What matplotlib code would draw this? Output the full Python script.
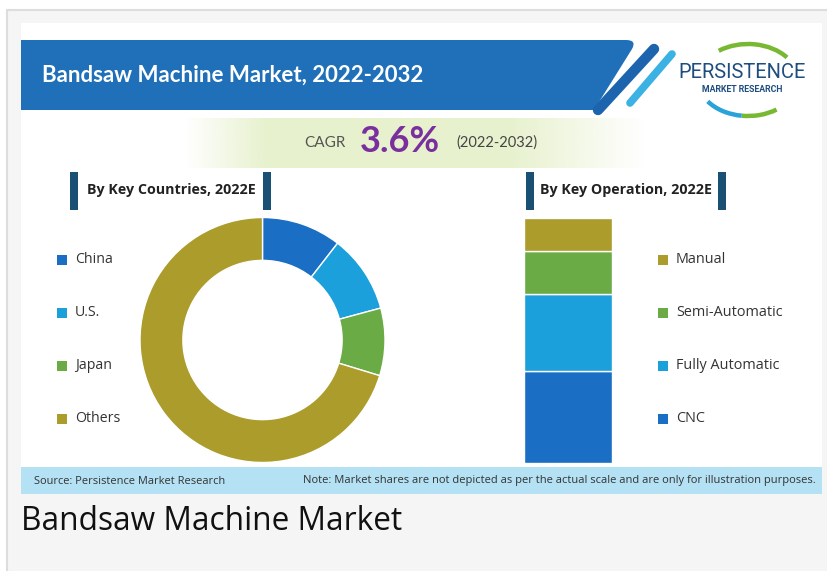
import matplotlib
matplotlib.use('Agg')
import matplotlib.pyplot as plt
import numpy as np
from matplotlib.patches import Rectangle, PathPatch, Arc
from matplotlib.path import Path
from matplotlib.lines import Line2D

W, H = 827, 571

# ---------------- data ----------------
title = "Bandsaw Machine Market, 2022-2032"
caption = "Bandsaw Machine Market"
cagr_label = "CAGR"
cagr_value = "3.6%"
cagr_period = "(2022-2032)"
countries_title = "By Key Countries, 2022E"
operation_title = "By Key Operation, 2022E"
country_labels = ["China", "U.S.", "Japan", "Others"]
country_shares = [10.5, 10.3, 8.9, 70.3]
country_colors = ["#1a6fc4", "#1ba0dc", "#6aab45", "#ab9c2c"]
operation_labels = ["Manual", "Semi-Automatic", "Fully Automatic", "CNC"]
operation_shares = [13.5, 17.5, 31.5, 37.5]
operation_colors = ["#ab9c2c", "#6aab45", "#1ba0dc", "#1a6fc4"]
source_text = "Source: Persistence Market Research"
note_text = ("Note: Market shares are not depicted as per the actual scale "
             "and are only for illustration purposes.")
logo_main = "PERSISTENCE"
logo_sub = "MARKET RESEARCH"

BODY = ['Open Sans', 'DejaVu Sans']
HEAD = ['Lato', 'DejaVu Sans']
LOGO = ['Roboto', 'DejaVu Sans']

fig = plt.figure(figsize=(W / 100, H / 100), dpi=100)
fig.patch.set_facecolor('white')
bg = fig.add_axes([0, 0, 1, 1])
bg.set_xlim(0, W)
bg.set_ylim(H, 0)
bg.axis('off')

# page / card
bg.add_patch(Rectangle((7, 10), 840, 600, fc='#f5f5f5', ec='#dddddd', lw=1.5, zorder=0))
bg.add_patch(Rectangle((21, 23), 801, 444, fc='white', ec='none', zorder=1))
bg.add_patch(Rectangle((21, 467), 801, 27, fc='#b4e1f3', ec='none', zorder=1))

# header band
verts = [(21, 40), (626, 40), (637, 40), (632, 49), (594, 110), (21, 110), (21, 40)]
codes = [Path.MOVETO, Path.LINETO, Path.CURVE3, Path.CURVE3, Path.LINETO, Path.LINETO, Path.CLOSEPOLY]
bg.add_patch(PathPatch(Path(verts, codes), fc='#1f70b9', ec='none', zorder=2))
bg.add_line(Line2D([598, 654], [110, 49], color='#1d64ae', lw=7.5, solid_capstyle='round', zorder=2))
bg.add_line(Line2D([630, 672], [103, 54], color='#3cb1e3', lw=5.5, solid_capstyle='round', zorder=2))
bg.text(42, 75, title, color='white', fontsize=16, fontweight='bold', family=HEAD,
        ha='left', va='center', zorder=3)

# logo
bg.add_patch(Arc((748, 80), 100, 72, theta1=225, theta2=330, color='#79b832', lw=3.2, zorder=2))
bg.add_patch(Arc((748, 80), 100, 72, theta1=46, theta2=100, color='#79b832', lw=3.2, zorder=2))
bg.add_patch(Arc((748, 80), 100, 72, theta1=100, theta2=152, color='#29a3d8', lw=3.2, zorder=2))
bg.add_patch(Rectangle((684, 60), 118, 35, fc='white', ec='none', zorder=2.5))
bg.text(742.5, 73, logo_main, color='#1d4e7f', fontsize=14.5, family=LOGO, ha='center',
        va='center', zorder=3)
bg.text(742.5, 89.5, logo_sub, color='#1d4e7f', fontsize=6.3, fontweight='bold', family=LOGO,
        ha='center', va='center', zorder=3)

# CAGR band
n = 400
xs = np.linspace(0, 1, n)
alpha = np.clip(np.minimum(xs / 0.18, (1 - xs) / 0.3), 0, 1)
grad = np.zeros((1, n, 4))
grad[..., 0] = 0xe7 / 255
grad[..., 1] = 0xf1 / 255
grad[..., 2] = 0xcd / 255
grad[..., 3] = alpha
bg.imshow(grad, extent=(185, 645, 168, 118), aspect='auto', zorder=2, interpolation='bilinear')
bg.set_xlim(0, W)
bg.set_ylim(H, 0)
bg.text(325, 143, cagr_label, color='#555555', fontsize=11, family=HEAD, ha='center', va='center', zorder=3)
bg.text(400, 141, cagr_value, color='#7a2f9e', fontsize=26, fontweight='bold', family=HEAD,
        ha='center', va='center', zorder=3)
bg.text(497, 143, cagr_period, color='#444444', fontsize=10.5, family=HEAD, ha='center', va='center', zorder=3)

# section headers
for (x1, x2, tx, txt) in [(70, 263, 171, countries_title), (526, 718, 626, operation_title)]:
    bg.add_patch(Rectangle((x1, 172), 8, 38, fc='#1b5075', ec='none', zorder=3))
    bg.add_patch(Rectangle((x2, 172), 8, 38, fc='#1b5075', ec='none', zorder=3))
    bg.text(tx, 190, txt, color='#222222', fontsize=10.3, fontweight='bold', family=BODY,
            ha='center', va='center', zorder=3)

# legends
leg_y = [260, 313, 366, 419]
for lab, col, y in zip(country_labels, country_colors, leg_y):
    bg.add_patch(Rectangle((57, y - 5), 10, 10, fc=col, ec='none', zorder=3))
    bg.text(75, y - 0.5, lab, color='#333333', fontsize=10.2, family=BODY, ha='left', va='center', zorder=3)
for lab, col, y in zip(operation_labels, operation_colors, leg_y):
    bg.add_patch(Rectangle((658, y - 5), 10, 10, fc=col, ec='none', zorder=3))
    bg.text(676, y - 0.5, lab, color='#333333', fontsize=10.4, family=BODY, ha='left', va='center', zorder=3)

# footer
bg.text(34, 481, source_text, color='#333333', fontsize=7.9, family=BODY, ha='left', va='center', zorder=3)
bg.text(816, 480, note_text, color='#333333', fontsize=8.05, family=BODY, ha='right', va='center', zorder=3)
bg.text(21, 521, caption, color='#111111', fontsize=22.8, family=BODY, ha='left', va='center', zorder=3)

# donut
cx, cy, r = 262.5, 340, 122.5
dax = fig.add_axes([(cx - r) / W, (H - cy - r) / H, 2 * r / W, 2 * r / H])
dax.pie(country_shares, colors=country_colors, startangle=90, counterclock=False, radius=1,
        wedgeprops=dict(width=0.35, edgecolor='white', linewidth=1))
dax.set_xlim(-1, 1)
dax.set_ylim(-1, 1)
dax.set_aspect('equal')
dax.axis('off')

# stacked bar
bx0, bx1, by0, by1 = 524, 612, 218, 463
bax = fig.add_axes([bx0 / W, (H - by1) / H, (bx1 - bx0) / W, (by1 - by0) / H])
bottom = 0
for val, col in zip(operation_shares[::-1], operation_colors[::-1]):
    bax.bar(0, val, bottom=bottom, width=1, color=col, edgecolor='white', linewidth=1)
    bottom += val
bax.set_xlim(-0.5, 0.5)
bax.set_ylim(0, sum(operation_shares))
bax.axis('off')

fig.savefig('out.png', dpi=100, facecolor='white')
